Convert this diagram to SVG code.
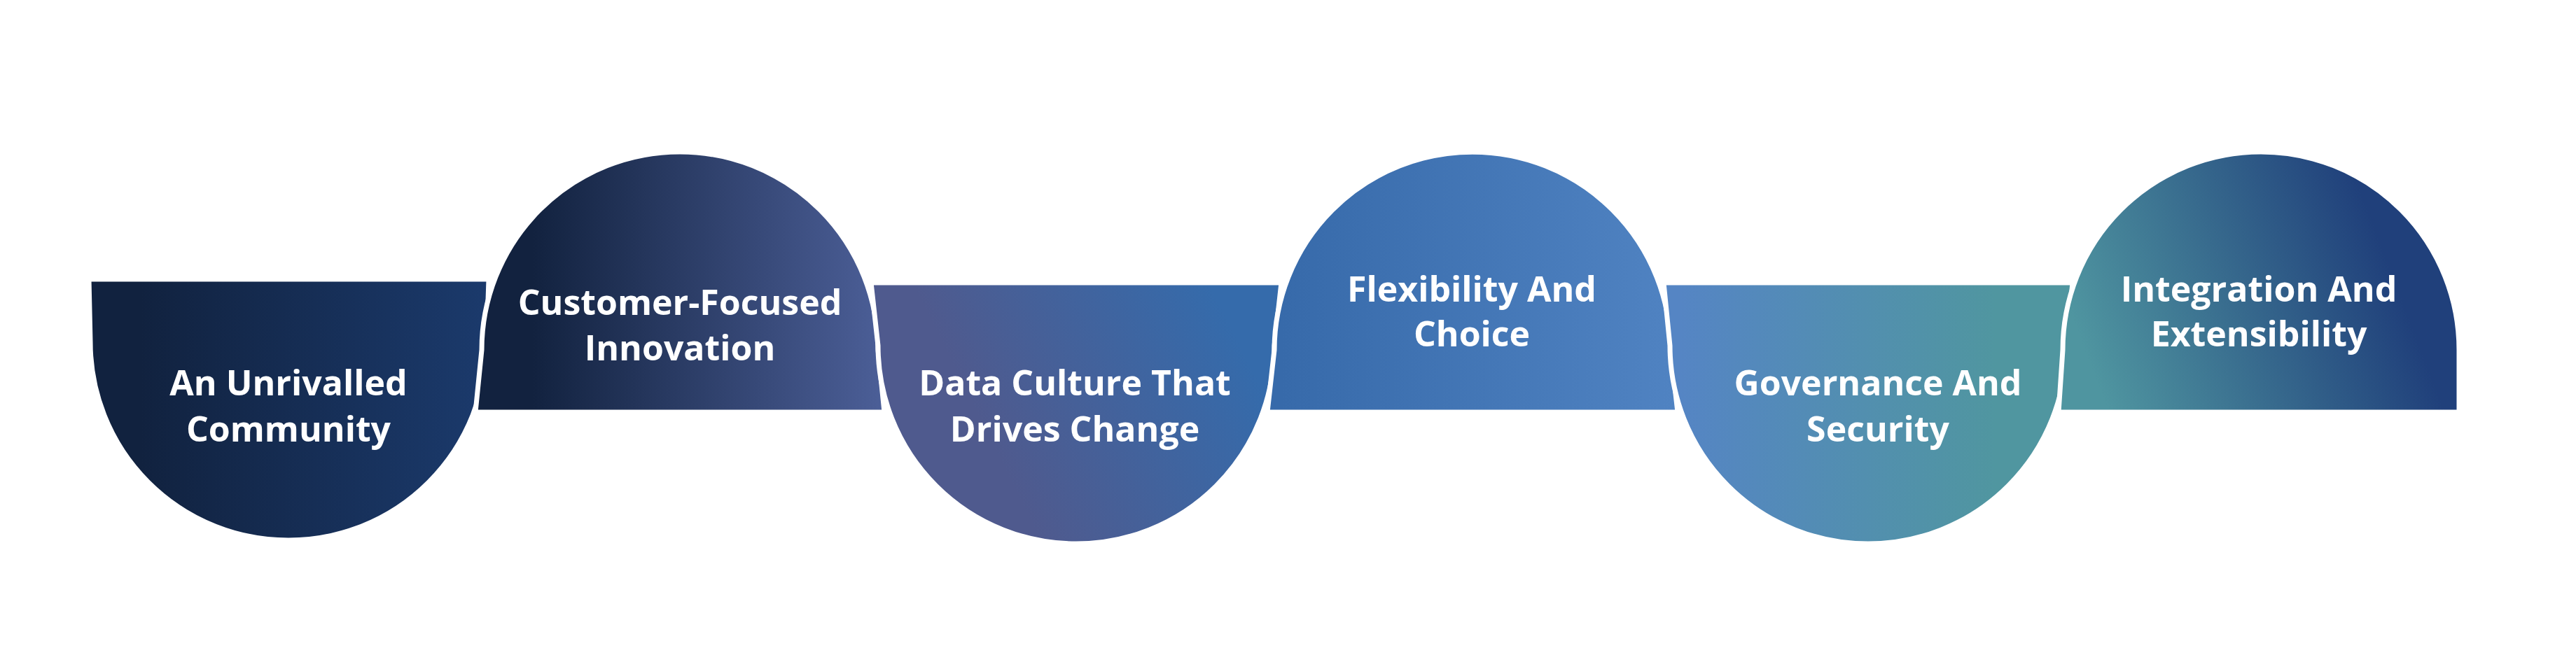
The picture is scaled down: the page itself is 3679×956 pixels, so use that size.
<svg xmlns="http://www.w3.org/2000/svg" width="3679" height="956" viewBox="0 0 3679 956">
  <defs>
    <linearGradient id="g1" gradientUnits="userSpaceOnUse" x1="200" y1="0" x2="698" y2="0">
      <stop offset="0" stop-color="#11223f"/>
      <stop offset="1" stop-color="#1b3a6c"/>
    </linearGradient>
    <linearGradient id="g2" gradientUnits="userSpaceOnUse" x1="760" y1="0" x2="1263" y2="0">
      <stop offset="0" stop-color="#12223f"/>
      <stop offset="1" stop-color="#4c5f98"/>
    </linearGradient>
    <linearGradient id="g3" gradientUnits="userSpaceOnUse" x1="1420" y1="640" x2="1760" y2="470">
      <stop offset="0" stop-color="#4f5a8e"/>
      <stop offset="1" stop-color="#356bab"/>
    </linearGradient>
    <linearGradient id="g4" gradientUnits="userSpaceOnUse" x1="1830" y1="0" x2="2396" y2="0">
      <stop offset="0" stop-color="#376aaa"/>
      <stop offset="1" stop-color="#5083c2"/>
    </linearGradient>
    <linearGradient id="g5" gradientUnits="userSpaceOnUse" x1="2400" y1="0" x2="2850" y2="0">
      <stop offset="0" stop-color="#5585c4"/>
      <stop offset="1" stop-color="#5096a0"/>
    </linearGradient>
    <linearGradient id="g6" gradientUnits="userSpaceOnUse" x1="3000" y1="560" x2="3420" y2="400">
      <stop offset="0" stop-color="#4f95a0"/>
      <stop offset="1" stop-color="#20407b"/>
    </linearGradient>
  </defs>
  <style>
    .shape { stroke: #ffffff; stroke-width: 7; stroke-linejoin: round; }
    .label { font-family: "Open Sans", Lato, "Liberation Sans", sans-serif; font-weight: 700; font-size: 50px; fill: #ffffff; text-anchor: middle; }
  </style>
  <rect width="3679" height="956" fill="#ffffff"/>
  <g id="connectors"></g>
  <g id="node1">
    <path class="shape" fill="url(#g1)" d="M127,399 L698,399 L695,489 A283,283 0 0 1 129,489 Z"/>
    <text class="label" x="412" y="565">An Unrivalled</text>
    <text class="label" x="412" y="631">Community</text>
  </g>
  <g id="node2">
    <path class="shape" fill="url(#g2)" d="M679,589 L688,500 A283,283 0 0 1 1254,500 L1263,589 Z"/>
    <text class="label" x="971" y="450">Customer-Focused</text>
    <text class="label" x="971" y="515">Innovation</text>
  </g>
  <g id="node3">
    <path class="shape" fill="url(#g3)" d="M1244,404 L1830,404 L1820,494 A283,283 0 0 1 1254,494 Z"/>
    <text class="label" x="1535" y="565">Data Culture That</text>
    <text class="label" x="1535" y="631">Drives Change</text>
  </g>
  <g id="node4">
    <path class="shape" fill="url(#g4)" d="M1810,589 L1820,500 A283,283 0 0 1 2386,500 L2396,589 Z"/>
    <text class="label" x="2102" y="431">Flexibility And</text>
    <text class="label" x="2102" y="495">Choice</text>
  </g>
  <g id="node5">
    <path class="shape" fill="url(#g5)" d="M2376,404 L2960,404 L2951,494 A283,283 0 0 1 2385,494 Z"/>
    <text class="label" x="2682" y="565">Governance And</text>
    <text class="label" x="2682" y="631">Security</text>
  </g>
  <g id="node6">
    <path class="shape" fill="url(#g6)" d="M2940,589 L2946,500 A283,283 0 0 1 3512,500 L3512,589 Z"/>
    <text class="label" x="3226" y="431">Integration And</text>
    <text class="label" x="3226" y="495">Extensibility</text>
  </g>
</svg>
